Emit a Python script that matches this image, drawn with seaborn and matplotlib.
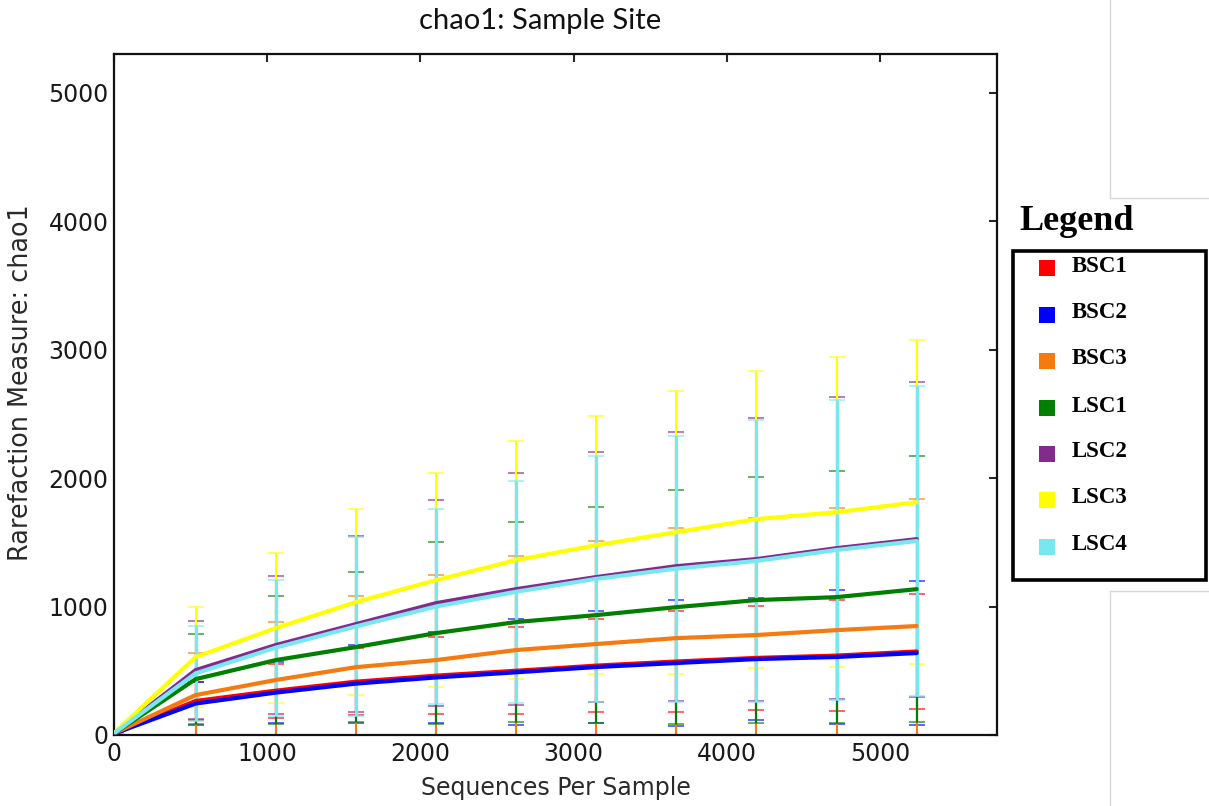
import matplotlib
matplotlib.use("Agg")
import matplotlib.pyplot as plt
from matplotlib.patches import Rectangle
from matplotlib.lines import Line2D
import seaborn as sns
import pandas as pd
import numpy as np

# ---------------- data ----------------
seqs = [10, 533, 1056, 1579, 2102, 2625, 3148, 3671, 4194, 4717, 5240]

samples = ["BSC1", "BSC2", "BSC3", "LSC1", "LSC2", "LSC3", "LSC4"]

bsc1_mean = [15, 265, 345, 415, 462, 500, 540, 572, 600, 618, 650]
bsc2_mean = [15, 245, 330, 400, 448, 488, 529, 560, 591, 607, 638]
bsc3_mean = [18, 311, 428, 528, 583, 661, 708, 754, 778, 816, 848]
lsc1_mean = [20, 435, 583, 684, 793, 879, 933, 995, 1050, 1073, 1135]
lsc2_mean = [22, 505, 700, 863, 1026, 1135, 1229, 1314, 1369, 1454, 1524]
lsc3_mean = [25, 607, 832, 1034, 1205, 1361, 1477, 1579, 1680, 1734, 1812]
lsc4_mean = [22, 480, 680, 845, 1000, 1115, 1215, 1295, 1355, 1440, 1510]

bsc1_sd = [3, 150, 210, 260, 300, 340, 363, 394, 403, 433, 448]
bsc2_sd = [3, 170, 236, 304, 357, 412, 435, 490, 474, 521, 560]
bsc3_sd = [4, 330, 450, 553, 660, 730, 800, 856, 910, 950, 987]
lsc1_sd = [4, 350, 498, 584, 707, 781, 842, 910, 956, 980, 1035]
lsc2_sd = [5, 381, 540, 687, 804, 905, 971, 1046, 1101, 1176, 1226]
lsc3_sd = [6, 390, 583, 726, 835, 929, 1003, 1101, 1155, 1206, 1263]
lsc4_sd = [5, 370, 530, 695, 760, 865, 955, 1035, 1095, 1170, 1210]

colors = ["#FF0000", "#0000FF", "#F57A10", "#007F00", "#842A8C", "#FFFF00", "#77E8F0"]

x_ticks = [0, 1000, 2000, 3000, 4000, 5000]
y_ticks = [0, 1000, 2000, 3000, 4000, 5000]

title = "chao1: Sample Site"
xlabel = "Sequences Per Sample"
ylabel = "Rarefaction Measure: chao1"
legend_title = "Legend"

means = [bsc1_mean, bsc2_mean, bsc3_mean, lsc1_mean, lsc2_mean, lsc3_mean, lsc4_mean]
sds = [bsc1_sd, bsc2_sd, bsc3_sd, lsc1_sd, lsc2_sd, lsc3_sd, lsc4_sd]

rows = []
for s, m, sd in zip(samples, means, sds):
    for xv, mv, sv in zip(seqs, m, sd):
        rows.append({"seqs": xv, "value": mv, "sd": sv, "sample": s})
df = pd.DataFrame(rows)

# ---------------- plot ----------------
sns.set_style("white")
plt.rcParams["font.family"] = ["DejaVu Sans"]

W, H = 1209, 806
fig = plt.figure(figsize=(W / 100, H / 100), dpi=100)
ax = fig.add_axes([114 / W, 1 - 735 / H, (997 - 114) / W, (735 - 54) / H])

# error bars first (later series drawn on top, slightly wider so they fully cover)
n = len(samples)
for i, (s, c) in enumerate(zip(samples, colors)):
    d = df[df["sample"] == s]
    lw = 1.5 + 0.8 * (i == n - 1)
    _, caps, bars = ax.errorbar(d["seqs"], d["value"], yerr=d["sd"], fmt="none", ecolor=c,
                                elinewidth=lw, capsize=5.5, capthick=1.3, zorder=2)
    for cl in caps:
        cl.set_alpha(0.65)

palette = dict(zip(samples, colors))
sns.lineplot(data=df, x="seqs", y="value", hue="sample", hue_order=samples,
             palette=palette, linewidth=3, legend=False, ax=ax, zorder=3,
             errorbar=None, sort=False)

ax.set_xlim(0, 5764)
ax.set_ylim(0, 5300)
ax.set_xticks(x_ticks)
ax.set_yticks(y_ticks)
ax.tick_params(direction="in", top=True, right=True, length=6, width=1.5,
               labelsize=17, labelcolor="#1a1a1a")
ax.tick_params(axis="x", pad=5)
ax.tick_params(axis="y", pad=4)
for sp in ax.spines.values():
    sp.set_color("#111111")
    sp.set_linewidth(1.6)

ax.set_xlabel(xlabel, fontsize=17, color="#2a2a2a", labelpad=7)
ax.set_ylabel(ylabel, fontsize=18.4, color="#2a2a2a")
ax.yaxis.set_label_coords(-0.091, 0.517)
fig.text(540 / W, 1 - 21 / H, title, ha="center", va="center",
         fontsize=21, family=["Lato", "DejaVu Sans"], color="#111111")

# ---------------- legend (outside, manual) ----------------
fig.text(1019 / W, 1 - 222 / H, legend_title, ha="left", va="center",
         fontsize=26, fontweight="bold", family=["Liberation Serif"], color="#000000")
box = Rectangle((1013 / W, 1 - 580 / H), (1206 - 1013) / W, (580 - 251) / H,
                transform=fig.transFigure, fill=False, edgecolor="black", linewidth=2.6)
fig.add_artist(box)
row_y = [268, 315, 361, 408, 454, 500, 547]
sq = 16
for s, c, yy in zip(samples, colors, row_y):
    fig.add_artist(Rectangle(((1047 - sq / 2) / W, 1 - (yy + sq / 2) / H), sq / W, sq / H,
                             transform=fig.transFigure, facecolor=c, edgecolor="none"))
    fig.text(1072 / W, 1 - (yy - 2) / H, s, ha="left", va="center", fontsize=16.5,
             fontweight="bold", family=["Liberation Serif"], color="#000000")

# faint page-frame lines at the right edge
gray = "#d8d8d8"
fig.add_artist(Line2D([1110 / W, 1110 / W], [1, 1 - 198 / H], transform=fig.transFigure, color=gray, lw=1))
fig.add_artist(Line2D([1110 / W, 1], [1 - 198 / H, 1 - 198 / H], transform=fig.transFigure, color=gray, lw=1))
fig.add_artist(Line2D([1110 / W, 1], [1 - 591 / H, 1 - 591 / H], transform=fig.transFigure, color=gray, lw=1))
fig.add_artist(Line2D([1110 / W, 1110 / W], [1 - 591 / H, 0], transform=fig.transFigure, color=gray, lw=1))

fig.savefig("out.png", dpi=100)
